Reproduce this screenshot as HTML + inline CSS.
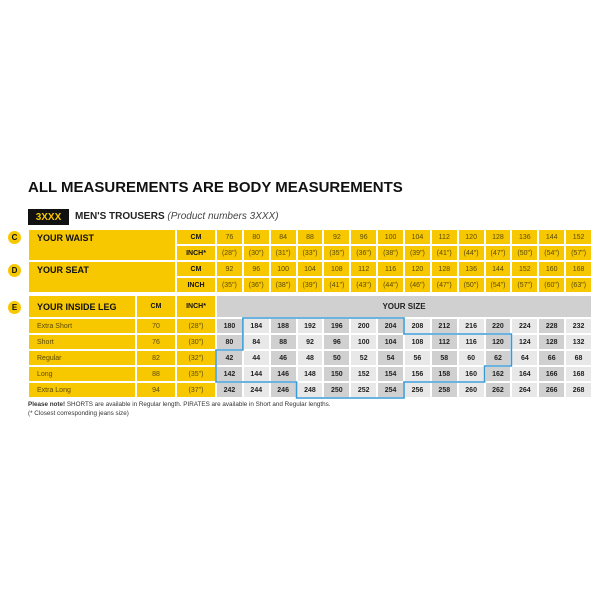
<!DOCTYPE html>
<html><head><style>
body{margin:0;width:600px;height:600px;background:#fff;font-family:"Liberation Sans",sans-serif;position:relative;overflow:hidden}
.a{position:absolute}
.c{position:absolute;display:flex;align-items:center;justify-content:center;font-size:7px;color:#5a4a00;box-sizing:border-box;border:1px solid #fff}
.y{background:#f7c800}
.b{font-weight:bold;color:#111}
.g1{background:#d0d0d0;color:#222;font-weight:bold}
.g2{background:#e8e8e8;color:#222;font-weight:bold}
.lab{justify-content:flex-start;padding-left:8px}
.circ{position:absolute;width:13px;height:13px;border-radius:50%;background:#f7c800;font-size:8px;font-weight:bold;display:flex;align-items:center;justify-content:center;color:#111}
</style></head><body>
<div class="a b" style="left:28px;top:179px;font-size:15px">ALL MEASUREMENTS ARE BODY MEASUREMENTS</div>
<div class="a" style="left:28px;top:209px;width:41px;height:16px;background:#111;color:#f7c800;font-size:10px;font-weight:bold;display:flex;align-items:center;justify-content:center">3XXX</div>
<div class="a" style="left:75px;top:211px;font-size:10px;color:#222"><b>MEN'S TROUSERS</b> <i style="color:#444">(Product numbers 3XXX)</i></div>
<div class="circ" style="left:8px;top:231px">C</div>
<div class="circ" style="left:8px;top:264px">D</div>
<div class="circ" style="left:8px;top:301px">E</div>
<div id="g"></div>
<div class="a" style="left:28px;top:401px;font-size:6.3px;color:#333"><b>Please note!</b> SHORTS are available in Regular length. PIRATES are available in Short and Regular lengths.</div>
<div class="a" style="left:28px;top:410px;font-size:6.3px;color:#333">(* Closest corresponding jeans size)</div>
<svg class="a" style="left:0;top:0" width="600" height="600"></svg>
<script>
const g=document.getElementById('g');
function cell(x,y,w,h,cls,t){const d=document.createElement('div');d.className='c '+cls;d.style.cssText=`left:${x}px;top:${y}px;width:${w}px;height:${h}px`;d.innerHTML=t;g.appendChild(d);}
const X0=216,CW=(592-216)/14;
const wc=[76,80,84,88,92,96,100,104,112,120,128,136,144,152];
const wi=[28,30,31,33,35,36,38,39,41,44,47,50,54,57];
const sc=[92,96,100,104,108,112,116,120,128,136,144,152,160,168];
const si=[35,36,38,39,41,43,44,46,47,50,54,57,60,63];
const ry=[229,245,261,277,293];
cell(28,229,148,32,'y b lab','<span style="font-size:9px;align-self:flex-start;margin-top:3px">YOUR WAIST</span>');
cell(28,261,148,32,'y b lab','<span style="font-size:9px;align-self:flex-start;margin-top:3px">YOUR SEAT</span>');
const lbl=['CM','INCH*','CM','INCH'];
const rows=[wc,wi.map(v=>'('+v+'")'),sc,si.map(v=>'('+v+'")')];
for(let r=0;r<4;r++){cell(176,ry[r],40,16,'y b',lbl[r]);for(let i=0;i<14;i++)cell(X0+i*CW,ry[r],CW,16,'y',rows[r][i]);}
cell(28,295,108,23,'y b lab','<span style="font-size:9px">YOUR INSIDE LEG</span>');
cell(136,295,40,23,'y b','CM');cell(176,295,40,23,'y b','INCH*');
cell(216,295,376,23,'','<b style="font-size:8px;color:#222">YOUR SIZE</b>');g.lastChild.style.background='#d0d0d0';
const nm=['Extra Short','Short','Regular','Long','Extra Long'],cm=[70,76,82,88,94],inc=[28,30,32,35,37];
const starts=[180,80,42,142,242],step=[4,4,2,2,2];
for(let r=0;r<5;r++){const y=318+16*r;cell(28,y,108,16,'y lab',nm[r]);cell(136,y,40,16,'y',cm[r]);cell(176,y,40,16,'y','('+inc[r]+'")');
for(let i=0;i<14;i++)cell(X0+i*CW,y,CW,16,(i%2?'g2':'g1'),starts[r]+step[r]*i);}
const x=i=>216+i*(376/14),y=r=>318+16*r;
const p=[[1,0],[7,0],[7,1],[11,1],[11,3],[10,3],[10,4],[7,4],[7,5],[3,5],[3,4],[0,4],[0,2],[1,2]].map(a=>x(a[0]).toFixed(1)+','+y(a[1])).join(' ');
document.querySelector('svg').innerHTML='<polygon points="'+p+'" fill="none" stroke="#3a9ad6" stroke-width="1.6"/>';
</script>
</body></html>
